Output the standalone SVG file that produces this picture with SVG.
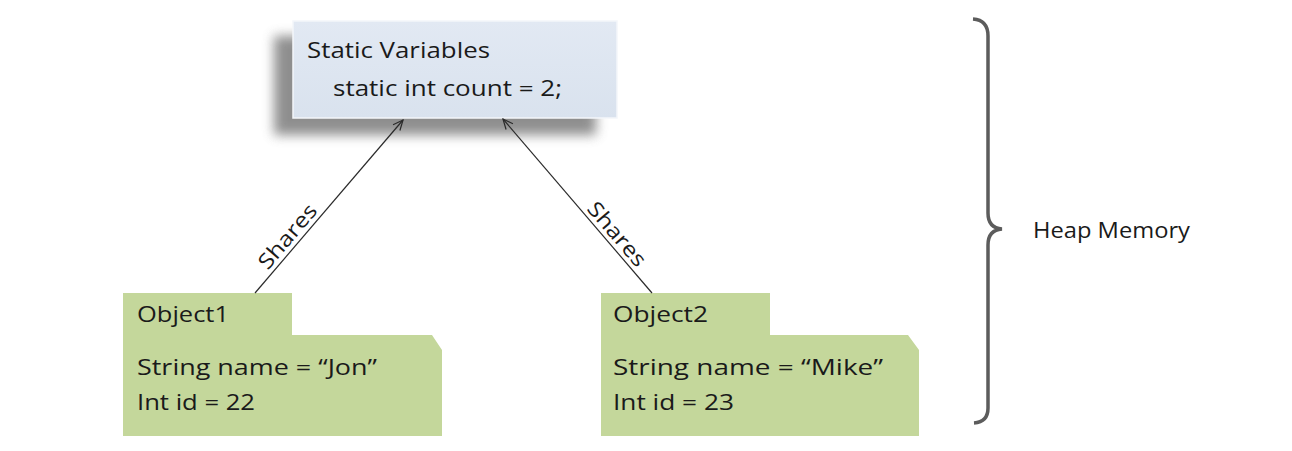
<svg xmlns="http://www.w3.org/2000/svg" width="1292" height="451" viewBox="0 0 1292 451">
<style>
.t{font-family:"Open Sans",Lato,"Liberation Sans",sans-serif;font-size:21px;fill:#1a1a1a;font-variant-ligatures:none}
.obj{fill:#c4d79b}
.conn{stroke:#2a2a2a;stroke-width:1.2;fill:none}
</style>
<defs>
<filter id="blur" x="-20%" y="-30%" width="140%" height="160%"><feGaussianBlur stdDeviation="6"/></filter>
<linearGradient id="boxg" x1="0" y1="0" x2="0" y2="1"><stop offset="0" stop-color="#e2e9f3"/><stop offset="1" stop-color="#d9e2ee"/></linearGradient>
<marker id="arr" viewBox="-12 -6 14 12" refX="0" refY="0" markerWidth="14" markerHeight="12" markerUnits="userSpaceOnUse" orient="auto">
<path d="M-10,-4.5 L0,0 L-10,4.5" fill="none" stroke="#2a2a2a" stroke-width="1.2"/>
</marker>
</defs>
<rect width="1292" height="451" fill="#ffffff"/>
<g id="static-vars">
<rect x="274" y="36" width="322" height="99" fill="#737373" opacity="0.8" filter="url(#blur)"/>
<rect x="293" y="21" width="324" height="97" fill="url(#boxg)" stroke="#f3f6fa" stroke-width="1.5"/>
<text class="t" x="307" y="58" textLength="183" lengthAdjust="spacingAndGlyphs">Static Variables</text>
<text class="t" x="333" y="96" textLength="229" lengthAdjust="spacingAndGlyphs">static int count = 2;</text>
</g>
<g id="object1">
<path class="obj" d="M123,293 H292 V335 H432 L442,350 V436 H123 Z"/>
<text class="t" x="137" y="322" textLength="92" lengthAdjust="spacingAndGlyphs">Object1</text>
<text class="t" x="137" y="375" textLength="240" lengthAdjust="spacingAndGlyphs">String name = “Jon”</text>
<text class="t" x="137" y="410" textLength="118" lengthAdjust="spacingAndGlyphs">Int id = 22</text>
</g>
<g id="object2">
<path class="obj" d="M601,293 H770 V335 H908 L919,350 V436 H601 Z"/>
<text class="t" x="613" y="322" textLength="95" lengthAdjust="spacingAndGlyphs">Object2</text>
<text class="t" x="613" y="375" textLength="270" lengthAdjust="spacingAndGlyphs">String name = “Mike”</text>
<text class="t" x="613" y="410" textLength="121" lengthAdjust="spacingAndGlyphs">Int id = 23</text>
</g>
<g id="connectors">
<line class="conn" x1="255" y1="293" x2="403" y2="120" marker-end="url(#arr)"/>
<line class="conn" x1="652" y1="293" x2="503" y2="119" marker-end="url(#arr)"/>
<text class="t" transform="translate(293,241) rotate(-49.5)" text-anchor="middle" textLength="78" lengthAdjust="spacingAndGlyphs">Shares</text>
<text class="t" transform="translate(611.5,238.8) rotate(49.3)" text-anchor="middle" textLength="78" lengthAdjust="spacingAndGlyphs">Shares</text>
</g>
<g id="heap-memory">
<path d="M973,19 Q988,20 988,36 V213 Q988,228 1002,229 Q988,230 988,245 V408 Q988,422 974,423" fill="none" stroke="#5c5c5c" stroke-width="3.5"/>
<text class="t" x="1033" y="238" textLength="157" lengthAdjust="spacingAndGlyphs">Heap Memory</text>
</g>
</svg>
